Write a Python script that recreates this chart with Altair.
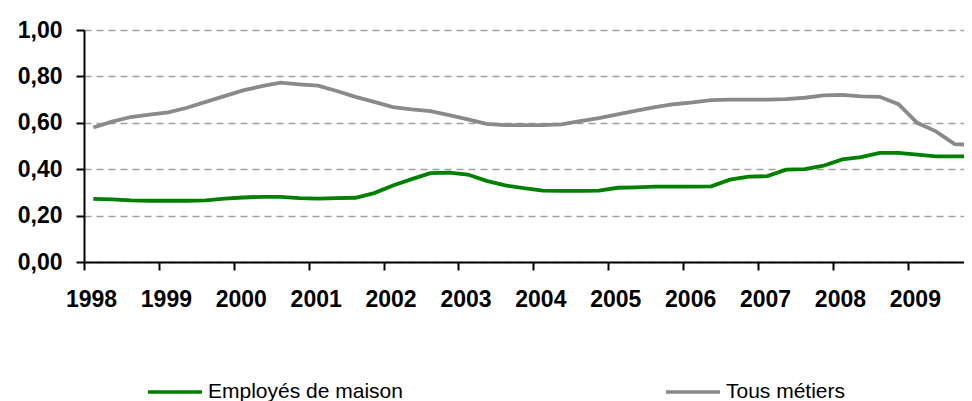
import altair as alt
import pandas as pd

years = list(range(1998, 2010))
quarters = [f"{y}T{q}" for y in years for q in (1, 2, 3, 4)]

employes = [0.272, 0.270, 0.266, 0.264, 0.264, 0.264, 0.266, 0.273, 0.278, 0.281, 0.281, 0.275,
            0.273, 0.275, 0.277, 0.297, 0.330, 0.357, 0.383, 0.385, 0.377, 0.350, 0.330, 0.318,
            0.308, 0.307, 0.307, 0.308, 0.320, 0.322, 0.325, 0.325, 0.325, 0.326, 0.355, 0.368,
            0.370, 0.398, 0.400, 0.415, 0.442, 0.452, 0.470, 0.470, 0.463, 0.455, 0.455, 0.455]

tous = [0.580, 0.605, 0.625, 0.635, 0.645, 0.665, 0.690, 0.715, 0.740, 0.758, 0.773, 0.766,
        0.760, 0.737, 0.712, 0.690, 0.668, 0.658, 0.650, 0.633, 0.615, 0.595, 0.590, 0.590,
        0.590, 0.593, 0.607, 0.620, 0.636, 0.652, 0.668, 0.680, 0.688, 0.698, 0.700, 0.700,
        0.700, 0.702, 0.708, 0.718, 0.720, 0.714, 0.712, 0.680, 0.600, 0.563, 0.508, 0.505]

series_names = ["Employés de maison", "Tous métiers"]
series_colors = ["#008000", "#8a8a8a"]

rows = []
for name, vals in zip(series_names, [employes, tous]):
    for qlab, v in zip(quarters, vals):
        y, q = qlab.split("T")
        rows.append({"t": int(y) + (int(q) - 0.5) / 4, "v": v, "serie": name})
df = pd.DataFrame(rows)

chart = alt.Chart(df).mark_line(strokeWidth=3.8, clip=True).encode(
    x=alt.X("t:Q",
            scale=alt.Scale(domain=[1998, 2009.75], nice=False, zero=False),
            axis=alt.Axis(values=years, format="d", title=None, grid=False,
                          tickSize=8, tickWidth=2, tickColor="black",
                          domainColor="black", domainWidth=2,
                          labelFont="Liberation Sans", labelFontWeight="bold",
                          labelFontSize=23, labelColor="black",
                          labelPadding=18, labelOffset=7, labelFlush=False,
                          labelOverlap=False)),
    y=alt.Y("v:Q",
            scale=alt.Scale(domain=[0, 1], nice=False),
            axis=alt.Axis(values=[0, 0.2, 0.4, 0.6, 0.8, 1.0], title=None,
                          labelExpr="replace(format(datum.value, '.2f'), '.', ',')",
                          tickSize=8, tickWidth=2, tickColor="black",
                          domainColor="black", domainWidth=2,
                          grid=True, gridColor="#a0a0a0", gridDash=[7, 5], gridWidth=1.5,
                          labelFont="Liberation Sans", labelFontWeight="bold",
                          labelFontSize=23, labelColor="black", labelPadding=14)),
    color=alt.Color("serie:N",
                    scale=alt.Scale(domain=series_names, range=series_colors),
                    legend=alt.Legend(title=None, orient="none", direction="horizontal",
                                      legendX=62, legendY=333,
                                      symbolType="stroke", symbolSize=2916,
                                      symbolStrokeWidth=3.5, labelOffset=4,
                                      labelFont="Liberation Sans", labelFontSize=21,
                                      labelColor="black", columnPadding=256,
                                      labelLimit=400)),
).properties(
    width=880, height=232,
    autosize=alt.AutoSizeParams(type="none"),
    padding={"left": 76, "top": 22, "right": 0, "bottom": 141},
).configure_view(stroke=None).configure_axis(gridDash=[7, 5])

chart.save("out.html", embed_options={"renderer": "svg", "actions": False})
